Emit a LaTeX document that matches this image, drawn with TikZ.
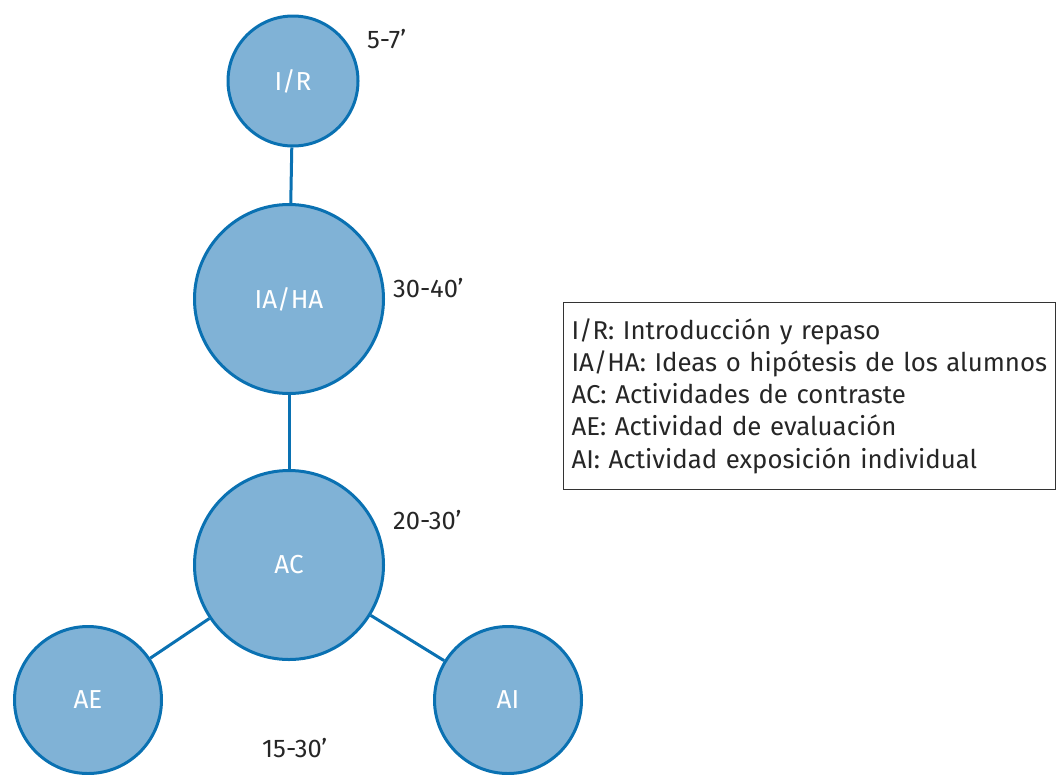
\documentclass[tikz,border=0pt]{standalone}
\usepackage{fontspec}
\setmainfont{Fira Sans}
\definecolor{circfill}{RGB}{128,178,214}
\definecolor{circdraw}{RGB}{10,113,178}

\begin{document}
\begin{tikzpicture}[x=1pt,y=-1pt]
    \tikzset{
      StageStyle/.style = { circle, draw = circdraw, fill = circfill,
                  line width = 3pt, text = white, inner sep = 0pt,
                  font = \fontsize{26}{30}\selectfont },
      TimeStyle/.style = { anchor = west, inner sep = 0pt,
                  font = \fontsize{25.5}{30}\selectfont, text = black!85 },
      EdgeStyle/.style = { draw = circdraw, line width = 3pt },
      LegendStyle/.style = { rectangle, draw = black!80, line width = 1pt,
                  minimum width = 492pt, minimum height = 187pt,
                  text width = 476pt, align = left, text = black!85,
                  font = \fontsize{25.8}{32.3}\selectfont } }
      \useasboundingbox (0,0) rectangle (1056,774);

      \node[StageStyle, minimum size = 130pt] (ir) at (293, 81) {I/R};
      \node[StageStyle, minimum size = 189pt] (iaha) at (289, 299) {IA/HA};
      \node[StageStyle, minimum size = 189pt] (ac) at (289, 565) {AC};
      \node[StageStyle, minimum size = 147pt] (ae) at (88, 700) {AE};
      \node[StageStyle, minimum size = 147pt] (ai) at (508, 700) {AI};

      \draw[EdgeStyle] (ir) -- (iaha);
      \draw[EdgeStyle] (iaha) -- (ac);
      \draw[EdgeStyle] (ac) -- (ae);
      \draw[EdgeStyle] (ac) -- (ai);

      \node[TimeStyle] (t1) at (367, 39) {5-7’};
      \node[TimeStyle] (t2) at (393, 288) {30-40’};
      \node[TimeStyle] (t3) at (393, 520) {20-30’};
      \node[TimeStyle] (t4) at (262, 748) {15-30’};

      \node[LegendStyle, anchor = north west] (legend) at (563, 302)
        {I/R: Introducción y repaso\\
         IA/HA: Ideas o hipótesis de los alumnos\\
         AC: Actividades de contraste\\
         AE: Actividad de evaluación\\
         AI: Actividad exposición individual};
    \end{tikzpicture}
\end{document}
